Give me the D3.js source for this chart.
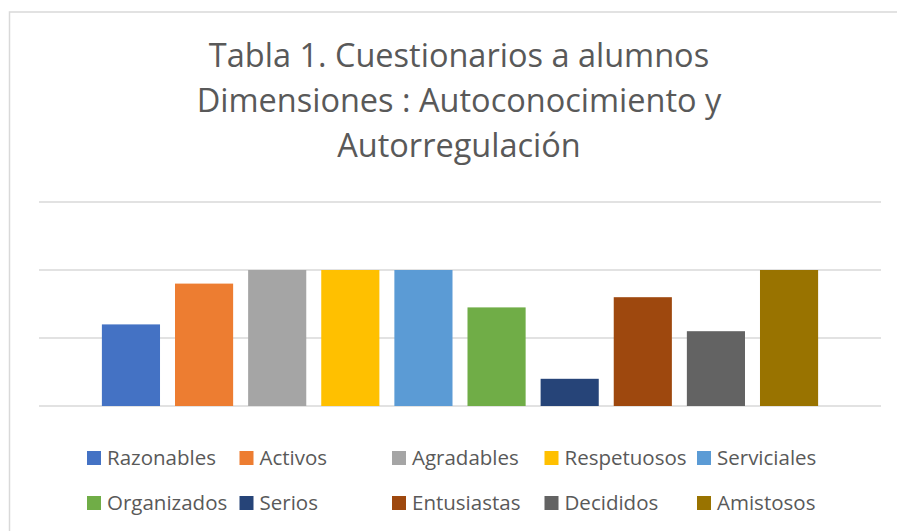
<!DOCTYPE html>
<html>
<head>
<meta charset="utf-8">
<script src="https://cdn.jsdelivr.net/npm/d3@7"></script>
<style>
  body { margin: 0; background: #fff; }
  text { font-family: "Open Sans", Lato, sans-serif; fill: #595959; font-variant-ligatures: none; }
</style>
</head>
<body>
<div id="chart"></div>
<script>
var categories = ['Razonables', 'Activos', 'Agradables', 'Respetuosos', 'Serviciales',
                  'Organizados', 'Serios', 'Entusiastas', 'Decididos', 'Amistosos'];
var values = [1.2, 1.8, 2, 2, 2, 1.45, 0.4, 1.6, 1.1, 2];
var colors = ['#4472C4', '#ED7D31', '#A5A5A5', '#FFC000', '#5B9BD5',
              '#70AD47', '#264478', '#9E480E', '#636363', '#997300'];
var gridTicks = [0, 1, 2, 3];
var titleLines = ['Tabla 1. Cuestionarios a alumnos',
                  'Dimensiones : Autoconocimiento y',
                  'Autorregulación'];

var width = 897;
var height = 531;

var svg = d3.select('#chart')
  .append('svg')
  .attr('width', width)
  .attr('height', height);

// chart frame (cropped on the right and bottom)
svg.append('rect')
  .attr('x', 9.5)
  .attr('y', 12)
  .attr('width', 920)
  .attr('height', 560)
  .attr('fill', '#fff')
  .attr('stroke', '#d9d9d9')
  .attr('stroke-width', 1.5);

svg.selectAll('.title')
  .data(titleLines)
  .enter()
  .append('text')
  .attr('class', 'title')
  .attr('x', 459)
  .attr('y', (d, i) => 67 + i * 45)
  .attr('text-anchor', 'middle')
  .style('font-size', '32.5px')
  .text(d => d);

var x = d3.scaleBand()
  .domain(categories)
  .range([39, 881])
  .paddingInner(0.205)
  .paddingOuter(0.86);

var y = d3.scaleLinear()
  .domain([0, 3])
  .range([406, 202]);

svg.selectAll('.grid')
  .data(gridTicks)
  .enter()
  .append('line')
  .attr('class', 'grid')
  .attr('x1', 39)
  .attr('x2', 881)
  .attr('y1', d => y(d))
  .attr('y2', d => y(d))
  .attr('stroke', '#d9d9d9')
  .attr('stroke-width', 1.5);

svg.selectAll('.bar')
  .data(values)
  .enter()
  .append('rect')
  .attr('class', 'bar')
  .attr('x', (d, i) => x(categories[i]))
  .attr('width', x.bandwidth())
  .attr('y', d => y(d))
  .attr('height', d => y(0) - y(d))
  .attr('fill', (d, i) => colors[i]);

// legend, 2 rows of 5
var legend = svg.selectAll('.legend')
  .data(categories)
  .enter()
  .append('g')
  .attr('class', 'legend')
  .attr('transform', (d, i) => 'translate(' + (87 + (i % 5) * 152.5) + ',' + (451 + Math.floor(i / 5) * 45) + ')');

legend.append('rect')
  .attr('width', 14)
  .attr('height', 14)
  .attr('fill', (d, i) => colors[i]);

legend.append('text')
  .attr('x', 20)
  .attr('y', 14)
  .style('font-size', '20.5px')
  .text(d => d);
</script>
</body>
</html>
